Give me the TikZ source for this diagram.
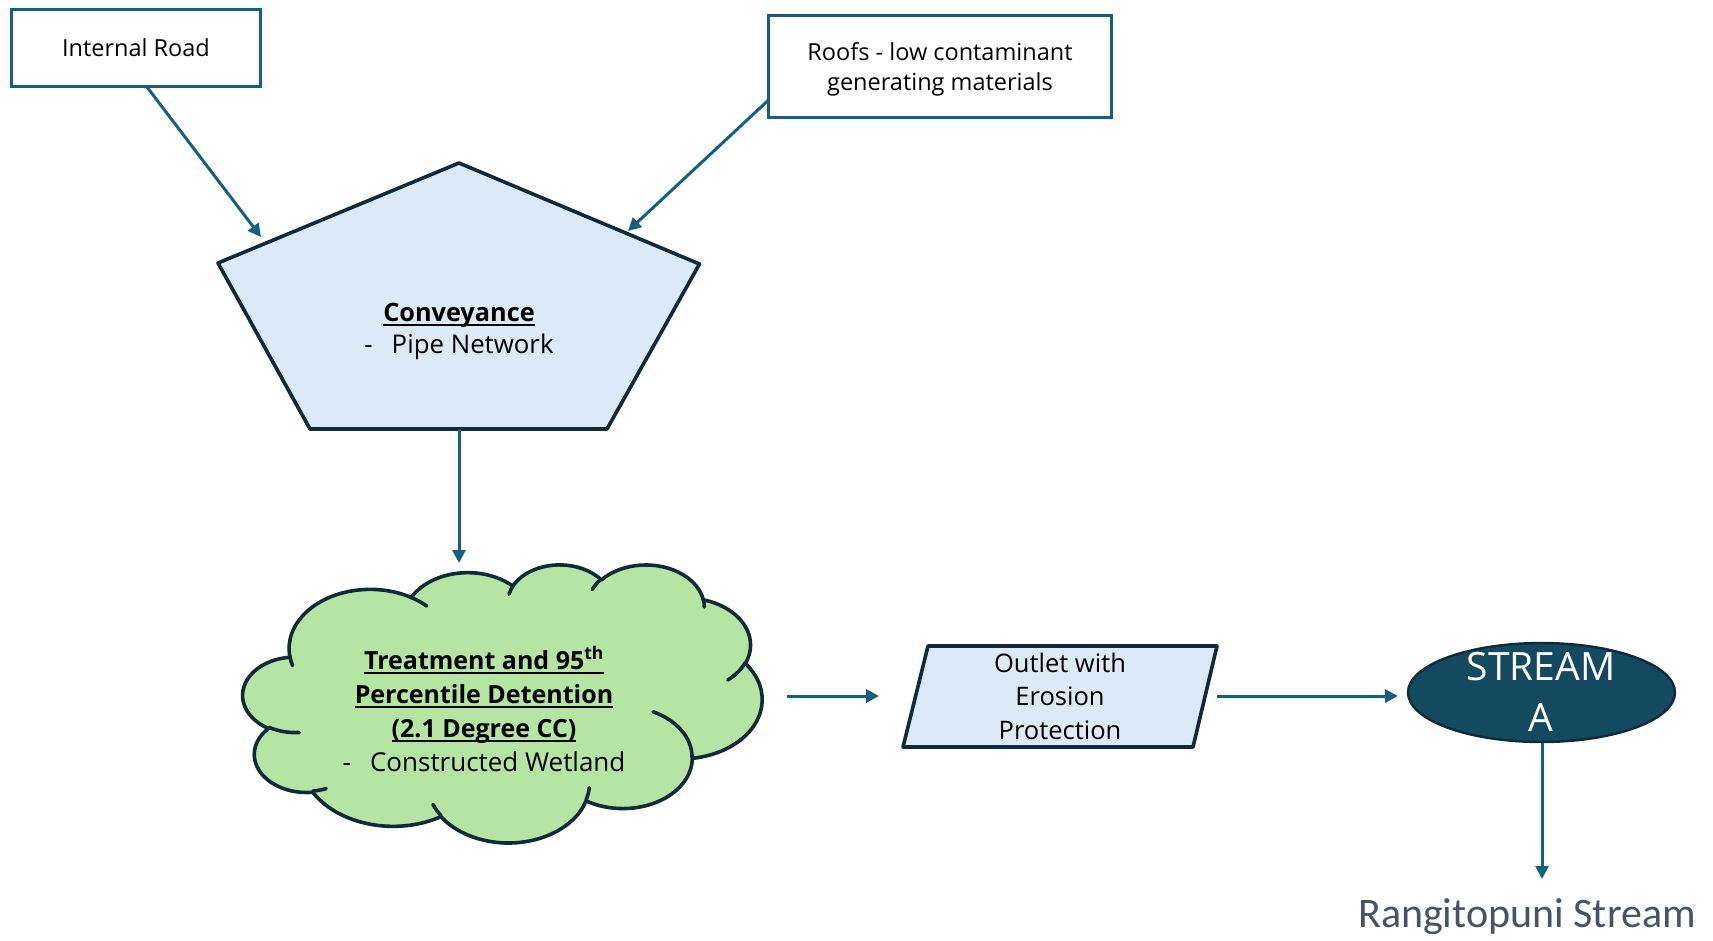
\documentclass[tikz,border=0pt]{standalone}
\usepackage{fontspec}
\setmainfont{Open Sans}
\newfontfamily\calfont{Carlito}
\usetikzlibrary{arrows.meta,shapes.geometric}

\definecolor{linkblue}{HTML}{156082}
\definecolor{navy}{HTML}{0E2A3B}
\definecolor{paleblue}{HTML}{DCEAF7}
\definecolor{leaf}{HTML}{B4E5A2}
\definecolor{deepteal}{HTML}{134A60}
\definecolor{slate}{HTML}{44546A}

% centred stack of lines whose reference point is the first baseline
\newcommand\stack[1]{\vtop{\halign{\hfil##\hfil\cr#1\crcr}}}
% bold text with a flat underline at a fixed distance below the baseline
\newcommand\ulbf[1]{\setbox0\hbox{\bfseries#1}\rlap{\rule[-4.6pt]{\wd0}{1.4pt}}\box0}
% elliptical arc given by visual start angle and sweep (degrees)
\newcommand\carc[4]{%
  \pgfextra{%
    \pgfmathsetmacro\cA{atan2((#1)*sin(#3),(#2)*cos(#3))}%
    \pgfmathsetmacro\cB{atan2((#1)*sin((#3)+(#4)),(#2)*cos((#3)+(#4)))}%
    \pgfmathsetmacro\cD{(\cB)-(\cA)+360*round(((#4)-(\cB)+(\cA))/360)}%
    \global\let\gA\cA\global\let\gD\cD}%
  arc[start angle=\gA, delta angle=\gD, x radius=#1, y radius=#2]}

\tikzset{
  srcbox/.style={draw=linkblue, line width=3.5pt, fill=white, inner sep=0pt},
  flow/.style={draw=linkblue, line width=3pt, -{Triangle[length=13pt,width=13pt]}},
  shapeline/.style={draw=navy, line width=3.6pt, line join=round},
  label/.style={inner sep=0pt, anchor=base, text=black},
}

\begin{document}
\begin{tikzpicture}[x=1pt, y=-1pt]
\useasboundingbox (0,0) rectangle (1713,940);

% source boxes
\node[srcbox, minimum width=248.6pt, minimum height=76.6pt,
      font=\fontsize{23.5}{30}\selectfont] (road) at (136,48) {Internal Road};
\node[srcbox, minimum width=342.6pt, minimum height=101.6pt] (roofs) at (940,66.5) {};
\node[label, font=\fontsize{23.5}{30}\selectfont] (roofstxt) at (940,60)
  {\stack{Roofs - low contaminant\cr generating materials}};

% conveyance pentagon
\coordinate (p1) at (459,163);
\coordinate (p2) at (699.5,264);
\coordinate (p3) at (607,429);
\coordinate (p4) at (310,429);
\coordinate (p5) at (218,263);
\draw[shapeline, fill=paleblue] (p1) -- (p2) -- (p3) -- (p4) -- (p5) -- cycle;
\node[label, font=\fontsize{25.8}{32}\selectfont] (conv) at (459,321)
  {\stack{\ulbf{\fontsize{25.3}{32}\selectfont Conveyance}\cr -\hspace{19pt}Pipe Network}};

% constructed wetland cloud
\begin{scope}[shift={(243,564)}, x=0.120139pt, y=-0.064352pt]
\path[shapeline, fill=leaf] (390.0,1437.0)
  \carc{675.3}{919.0}{-190.4875}{123.7805}
  \carc{533.3}{726.7}{-144.1024}{89.9452}
  \carc{436.5}{594.5}{-145.8079}{99.7230}
  \carc{485.7}{659.5}{-130.9861}{117.2417}
  \carc{533.3}{727.3}{-78.7089}{109.0269}
  \carc{677.5}{922.0}{-46.2673}{130.2690}
  \carc{578.5}{786.7}{0.6250}{114.0333}
  \carc{675.2}{921.5}{22.4516}{115.1726}
  \carc{772.0}{1054.3}{66.2426}{75.7110}
  \carc{436.0}{591.8}{-274.9421}{146.7356}
  \carc{434.5}{594.5}{-246.8285}{152.5189}
  -- cycle;
\path[shapeline, line cap=round]
  (469.3,2617.7) \carc{434.5}{594.5}{86.7420}{26.4295}
  (692.8,3489.9) \carc{436.0}{591.8}{73.6105}{11.4475}
  (1647.8,3909.0) \carc{675.2}{921.5}{137.6241}{14.0811}
  (2882.7,3475.1) \carc{675.2}{921.5}{6.4533}{15.9984}
  (3412.9,2295.4) \carc{578.5}{786.7}{-70.2924}{70.9174}
  (4179.8,1535.4) \carc{533.3}{727.3}{30.3180}{27.7515}
  (3832.4,542.6) \carc{485.7}{659.5}{-13.7443}{14.8589}
  (2907.8,395.2) \carc{485.7}{659.5}{-149.1815}{18.1954}
  (2214.1,472.0) \carc{436.5}{594.5}{-163.4943}{17.6864}
  (1400.0,519.2) \carc{675.3}{919.0}{-66.7070}{12.3194}
  (412.7,1578.9) \carc{675.3}{919.0}{157.65}{11.85};
\end{scope}
\node[label, font=\fontsize{25}{34}\selectfont] (wetland) at (484,669)
  {\stack{\ulbf{Treatment and 95\textsuperscript{th}}\cr
          \ulbf{Percentile Detention}\cr
          \ulbf{(2.1 Degree CC)}\cr
          {\fontsize{26}{34}\selectfont -\hspace{19pt}Constructed Wetland}}};

% outlet parallelogram
\coordinate (o1) at (928,646);
\coordinate (o2) at (1217,646);
\coordinate (o3) at (1193,747);
\coordinate (o4) at (903,747);
\draw[shapeline, fill=paleblue] (o1) -- (o2) -- (o3) -- (o4) -- cycle;
\node[label, font=\fontsize{25.5}{33.5}\selectfont] (outlet) at (1060,672)
  {\stack{Outlet with\cr Erosion\cr Protection}};

% receiving stream
\node[ellipse, draw=navy, line width=2.4pt, fill=deepteal, inner sep=0pt,
      minimum width=267pt, minimum height=99pt] (stream) at (1541.5,692.5) {};
\node[label, text=white, font=\fontsize{39}{51}\selectfont] (streamtxt) at (1541,680)
  {\stack{STREAM\cr A}};
\node[label, text=slate, font=\calfont\fontsize{42}{48}\selectfont] (river) at (1527,927)
  {Rangitopuni Stream};

% connector end points
\coordinate (roadout) at (147,87);
\coordinate (convinL) at (261,237);
\coordinate (roofsout) at (768,100.5);
\coordinate (convinR) at (628,231);
\coordinate (convout) at (459,429);
\coordinate (cloudin) at (459,563);
\coordinate (cloudout) at (787,696);
\coordinate (outletin) at (879,696);
\coordinate (outletout) at (1217,696);
\coordinate (streamin) at (1398,696);
\coordinate (streamout) at (1542,743);
\coordinate (riverin) at (1542,879);

\draw[flow] (roadout) -- (convinL);
\draw[flow] (roofsout) -- (convinR);
\draw[flow] (convout) -- (cloudin);
\draw[flow] (cloudout) -- (outletin);
\draw[flow] (outletout) -- (streamin);
\draw[flow] (streamout) -- (riverin);
\end{tikzpicture}
\end{document}
